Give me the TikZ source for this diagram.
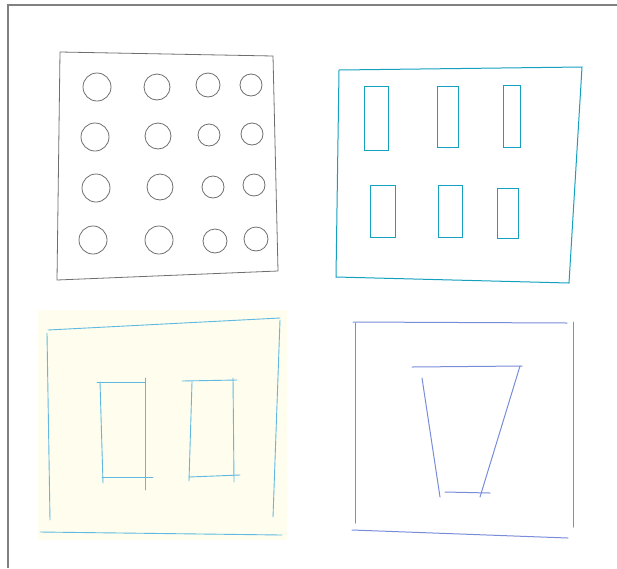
\documentclass[tikz,border=0pt]{standalone}
\usepackage{xcolor}
\usepackage{tikz}

\definecolor{frameGray}{RGB}{128,128,128}
\definecolor{penGray}{RGB}{110,110,110}
\definecolor{penTeal}{RGB}{20,160,190}
\definecolor{penSky}{RGB}{95,185,225}
\definecolor{penBlue}{RGB}{120,140,215}
\definecolor{paperYellow}{RGB}{254,253,238}

\begin{document}
\begin{tikzpicture}[x=1pt,y=-1pt,
  pencil/.style={line width=0.8pt,draw=penGray,line cap=round},
  tealpen/.style={line width=1pt,draw=penTeal,line cap=round},
  skypen/.style={line width=0.9pt,draw=penSky,line cap=round},
  bluepen/.style={line width=1pt,draw=penBlue,line cap=round}]
  \useasboundingbox (0,0) rectangle (617,568);

  % page frame
  \draw[frameGray,line width=1.4pt] (8,568) -- (8,5) -- (617,5);

  % top left: grid of holes
  \draw[pencil] (60,52) -- (273,56) -- (278,271) -- (57,280) -- cycle;
  \foreach \cx/\cy/\r in {97/87/14,157/87/13,208/85/12,251/85/11,
                          95/137/14,158/136/13,209/135/11,252/134/11,
                          96/188/14,160/187/13,213/187/11,254/185/11,
                          93/240/14,159/240/14,215/241/12,256/239/12}
    \draw[pencil] (\cx,\cy) circle[radius=\r];

  % top right: two rows of slots
  \draw[tealpen] (339,70) -- (582,67) -- (569,283) -- (336,277) -- cycle;
  \foreach \xa/\ya/\xb/\yb in {364/86/388/150,437/86/458/147,503/85/520/147,
                               370/185/395/237,438/185/462/237,497/188/518/238}
    \draw[tealpen] (\xa,\ya) rectangle (\xb,\yb);

  % bottom left: two tall openings
  \fill[paperYellow] (38,310) rectangle (287,540);
  \draw[skypen] (48,330) -- (280,318);
  \draw[skypen] (47,333) -- (50,520);
  \draw[skypen] (280,320) -- (273,517);
  \draw[skypen] (40,532) -- (282,535);
  \draw[skypen] (97,382) -- (145,382);
  \draw[skypen] (100,382) -- (103,483);
  \draw[skypen] (145,378) -- (145,490);
  \draw[skypen] (102,477) -- (153,477);
  \draw[skypen] (182,381) -- (237,380);
  \draw[skypen] (192,382) -- (189,481);
  \draw[skypen] (233,378) -- (234,482);
  \draw[skypen] (189,477) -- (240,475);

  % bottom right: tapered opening
  \draw[bluepen] (353,322) -- (567,323);
  \draw[bluepen] (355,323) -- (355,523);
  \draw[bluepen] (573,322) -- (573,527);
  \draw[bluepen] (352,530) -- (568,538);
  \draw[bluepen] (412,367) -- (522,366);
  \draw[bluepen] (422,378) -- (440,497);
  \draw[bluepen] (520,366) -- (480,497);
  \draw[bluepen] (445,492) -- (490,493);
\end{tikzpicture}
\end{document}
